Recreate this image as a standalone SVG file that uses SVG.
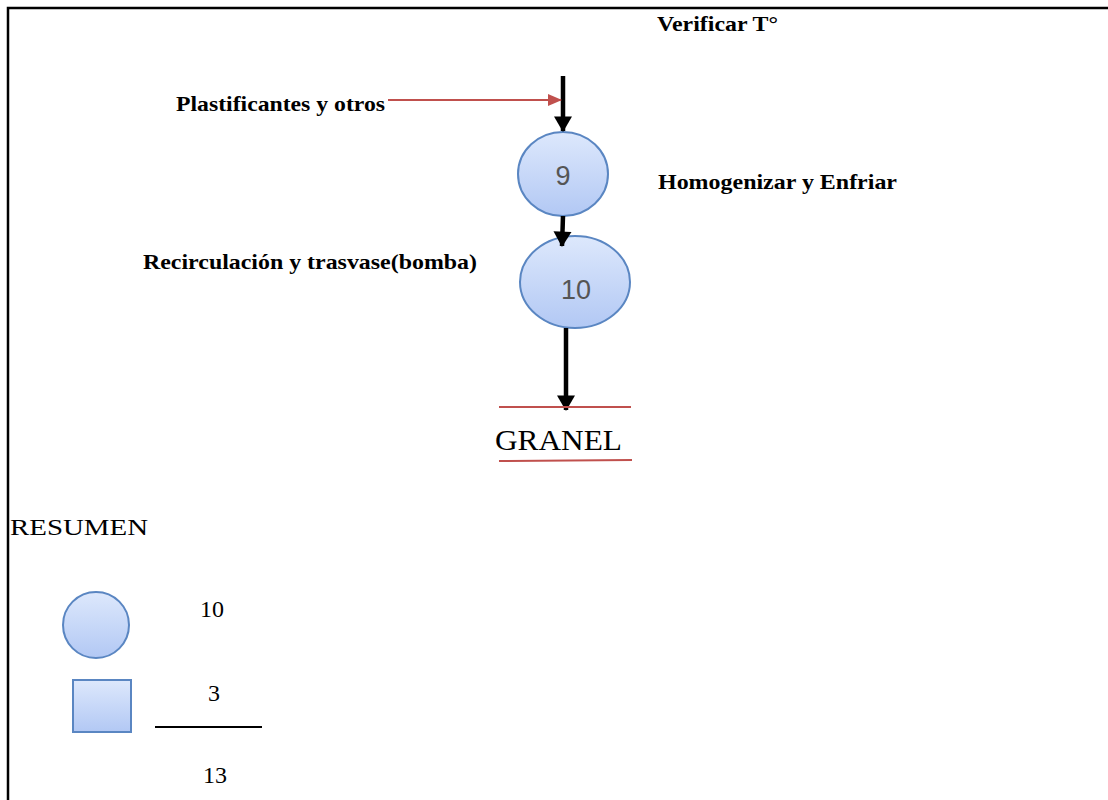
<svg xmlns="http://www.w3.org/2000/svg" width="1108" height="800" viewBox="0 0 1108 800">
<style>
.lbl{font-family:"Liberation Serif",serif;font-weight:bold;font-size:22px;fill:#000}
.txt{font-family:"Liberation Serif",serif;font-size:24px;fill:#000}
.num{font-family:"Liberation Sans",Arial,sans-serif;font-size:27px;fill:#555}
.node{fill:url(#g);stroke:#5a86c2;stroke-width:2}
.flow{stroke:#000;stroke-width:4.5;fill:none}
.red{stroke:#c0504d;stroke-width:2;fill:none}
</style>
<defs>
<linearGradient id="g" x1="0" y1="0" x2="0" y2="1">
<stop offset="0" stop-color="#dde8fc"/>
<stop offset="1" stop-color="#b2c8f4"/>
</linearGradient>
<marker id="ab" markerWidth="3.4" markerHeight="4" refX="3.2" refY="2" orient="auto" markerUnits="strokeWidth" overflow="visible">
<path d="M0,0 L3.4,2 L0,4 Z" fill="#000"/>
</marker>
<marker id="ar" markerWidth="7" markerHeight="6" refX="6.5" refY="3" orient="auto" markerUnits="strokeWidth">
<path d="M0,0 L7,3 L0,6 Z" fill="#c0504d"/>
</marker>
</defs>
<rect width="1108" height="800" fill="#fff"/>
<path d="M8,800 V8 H1108" stroke="#000" stroke-width="2.5" fill="none"/>

<g id="n9">
<ellipse class="node" cx="563" cy="174" rx="45" ry="42"/>
<text class="num" x="563" y="185" text-anchor="middle">9</text>
</g>
<g id="n10">
<ellipse class="node" cx="575" cy="282" rx="55" ry="46"/>
<text class="num" x="576" y="299" text-anchor="middle">10</text>
</g>

<g id="connectors">
<line class="flow" x1="563" y1="76" x2="563" y2="131" marker-end="url(#ab)"/>
<line class="red" x1="388" y1="100" x2="561" y2="100" marker-end="url(#ar)"/>
<line class="flow" x1="563" y1="216" x2="562" y2="246" marker-end="url(#ab)"/>
<line class="flow" x1="566" y1="328" x2="566" y2="410" marker-end="url(#ab)"/>
</g>

<g id="labels">
<text class="lbl" x="657" y="31" textLength="121" lengthAdjust="spacingAndGlyphs">Verificar T°</text>
<text class="lbl" x="176" y="111" textLength="209" lengthAdjust="spacingAndGlyphs">Plastificantes y otros</text>
<text class="lbl" x="658" y="189" textLength="239" lengthAdjust="spacingAndGlyphs">Homogenizar y Enfriar</text>
<text class="lbl" x="143" y="269" textLength="334" lengthAdjust="spacingAndGlyphs">Recirculación y trasvase(bomba)</text>
</g>

<g id="granel">
<line class="red" x1="499" y1="407" x2="631" y2="407"/>
<text x="495" y="450" textLength="127" lengthAdjust="spacingAndGlyphs" style="font-family:'Liberation Serif',serif;font-size:29px">GRANEL</text>
<line class="red" x1="499" y1="461" x2="632" y2="460"/>
</g>

<g id="resumen">
<text class="txt" x="10" y="535" textLength="138" lengthAdjust="spacingAndGlyphs">RESUMEN</text>
<circle class="node" cx="96" cy="625" r="33"/>
<text class="txt" x="200" y="617">10</text>
<rect class="node" x="73" y="680" width="58" height="52"/>
<text class="txt" x="208" y="701">3</text>
<line x1="155" y1="727" x2="262" y2="727" stroke="#000" stroke-width="2"/>
<text class="txt" x="203" y="783">13</text>
</g>
</svg>
